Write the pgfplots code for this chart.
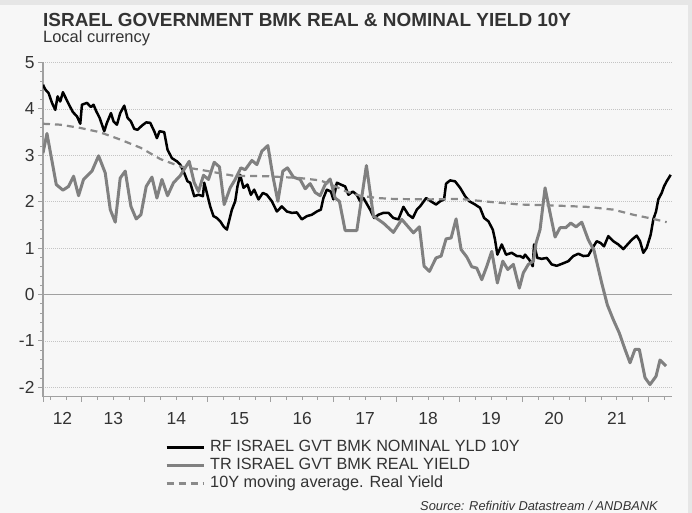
\documentclass[border=0pt]{standalone}
\usepackage{pgfplots}
\pgfplotsset{compat=1.18}
\usepackage{fontspec}
\setmainfont{Liberation Sans}
\definecolor{bg}{HTML}{F7F7F7}
\definecolor{band}{HTML}{E6E6E6}
\definecolor{txt}{HTML}{333333}
\definecolor{realc}{HTML}{808080}
\definecolor{mac}{HTML}{8A8A8A}
\definecolor{gridc}{HTML}{C4C4C4}
\definecolor{axc}{HTML}{A0A0A0}

\pgfplotstableread{
x y
2012.381 4.52
2012.417 4.42
2012.470 4.34
2012.524 4.13
2012.576 3.98
2012.613 4.27
2012.655 4.16
2012.698 4.36
2012.751 4.21
2012.814 4.04
2012.857 3.93
2012.921 3.84
2012.973 3.68
2013.000 4.09
2013.079 4.13
2013.143 4.04
2013.184 4.09
2013.227 3.95
2013.280 3.81
2013.354 3.52
2013.397 3.70
2013.461 3.91
2013.502 3.73
2013.556 3.66
2013.608 3.91
2013.672 4.07
2013.724 3.81
2013.778 3.73
2013.831 3.57
2013.883 3.55
2013.953 3.64
2014.021 3.71
2014.085 3.70
2014.148 3.52
2014.191 3.37
2014.233 3.52
2014.307 3.50
2014.360 3.12
2014.429 2.94
2014.509 2.87
2014.561 2.80
2014.625 2.62
2014.677 2.44
2014.720 2.41
2014.784 2.12
2014.852 2.15
2014.922 2.12
2014.943 2.41
2014.985 2.19
2015.038 1.90
2015.090 1.69
2015.144 1.65
2015.197 1.58
2015.249 1.47
2015.303 1.40
2015.344 1.62
2015.383 1.83
2015.435 2.01
2015.471 2.33
2015.514 2.58
2015.567 2.30
2015.630 2.37
2015.684 2.15
2015.737 2.26
2015.805 2.05
2015.875 2.19
2015.938 2.15
2016.018 2.01
2016.097 1.79
2016.176 1.90
2016.256 1.79
2016.336 1.76
2016.415 1.77
2016.494 1.62
2016.574 1.69
2016.653 1.72
2016.732 1.79
2016.796 1.83
2016.837 2.08
2016.891 2.26
2016.955 2.22
2016.996 2.05
2017.050 2.41
2017.114 2.37
2017.182 2.33
2017.234 2.15
2017.304 2.22
2017.368 2.15
2017.420 2.01
2017.473 2.08
2017.579 1.83
2017.643 1.65
2017.711 1.72
2017.790 1.76
2017.870 1.76
2017.949 1.65
2018.029 1.62
2018.108 1.89
2018.187 1.72
2018.257 1.65
2018.321 1.83
2018.384 1.92
2018.469 2.08
2018.543 2.01
2018.627 1.94
2018.691 2.01
2018.754 2.05
2018.786 2.39
2018.850 2.46
2018.929 2.44
2019.009 2.30
2019.088 2.12
2019.156 2.01
2019.247 1.94
2019.326 1.87
2019.390 1.65
2019.458 1.58
2019.528 1.40
2019.564 1.18
2019.601 0.86
2019.671 1.08
2019.739 0.86
2019.830 0.90
2019.909 0.83
2019.962 0.83
2020.014 0.79
2020.041 0.86
2020.109 0.75
2020.163 0.61
2020.184 1.08
2020.236 0.79
2020.306 0.77
2020.386 0.79
2020.465 0.65
2020.544 0.62
2020.640 0.67
2020.729 0.72
2020.808 0.83
2020.888 0.88
2020.967 0.83
2021.046 0.84
2021.116 1.01
2021.180 1.15
2021.243 1.11
2021.296 1.04
2021.364 1.26
2021.443 1.15
2021.523 1.08
2021.602 0.98
2021.736 1.18
2021.815 1.27
2021.868 1.15
2021.920 0.90
2021.974 1.01
2022.037 1.29
2022.079 1.62
2022.122 1.79
2022.158 2.05
2022.212 2.19
2022.249 2.33
2022.291 2.44
2022.355 2.58
}\nominal

\pgfplotstableread{
x y
2012.381 3.05
2012.444 3.47
2012.592 2.37
2012.698 2.25
2012.787 2.33
2012.867 2.55
2012.946 2.13
2013.025 2.48
2013.159 2.66
2013.264 2.99
2013.370 2.62
2013.450 1.83
2013.529 1.56
2013.608 2.51
2013.688 2.66
2013.778 1.90
2013.862 1.63
2013.937 1.72
2014.021 2.33
2014.112 2.53
2014.191 2.08
2014.271 2.48
2014.360 2.13
2014.455 2.41
2014.561 2.56
2014.704 2.87
2014.784 2.41
2014.852 2.22
2014.931 2.57
2015.011 2.48
2015.101 2.85
2015.185 2.75
2015.260 1.94
2015.355 2.30
2015.435 2.48
2015.525 2.73
2015.594 2.69
2015.700 2.89
2015.780 2.80
2015.859 3.09
2015.954 3.21
2016.034 2.55
2016.113 2.01
2016.192 2.66
2016.266 2.73
2016.361 2.53
2016.467 2.48
2016.547 2.28
2016.626 2.39
2016.706 2.20
2016.785 2.13
2016.864 2.37
2016.944 2.49
2017.023 2.08
2017.091 2.01
2017.182 1.38
2017.368 1.38
2017.520 2.78
2017.632 1.69
2017.790 1.54
2017.949 1.34
2018.082 1.62
2018.267 1.33
2018.362 1.46
2018.437 0.61
2018.521 0.50
2018.627 0.79
2018.707 0.83
2018.786 1.20
2018.866 1.22
2018.945 1.63
2019.025 0.97
2019.115 0.81
2019.194 0.60
2019.274 0.57
2019.353 0.32
2019.433 0.61
2019.512 0.93
2019.601 0.25
2019.687 0.72
2019.766 0.54
2019.855 0.65
2019.950 0.14
2020.014 0.47
2020.093 0.65
2020.173 0.72
2020.216 1.11
2020.279 1.40
2020.359 2.30
2020.438 1.76
2020.518 1.24
2020.597 1.44
2020.687 1.44
2020.767 1.54
2020.851 1.46
2020.942 1.56
2021.046 1.18
2021.137 0.95
2021.259 0.25
2021.348 -0.22
2021.443 -0.54
2021.539 -0.83
2021.629 -1.18
2021.709 -1.47
2021.788 -1.18
2021.856 -1.18
2021.947 -1.79
2022.026 -1.94
2022.122 -1.76
2022.185 -1.41
2022.280 -1.54
}\real

\pgfplotstableread{
x y
2012.381 3.68
2012.655 3.66
2012.973 3.59
2013.280 3.50
2013.608 3.34
2013.937 3.16
2014.244 2.92
2014.561 2.76
2014.879 2.69
2015.408 2.56
2015.938 2.55
2016.467 2.51
2016.785 2.46
2016.996 2.35
2017.200 2.22
2017.420 2.13
2017.700 2.08
2017.949 2.06
2018.480 2.05
2019.009 2.06
2019.537 1.99
2019.962 1.94
2020.490 1.92
2021.021 1.89
2021.443 1.83
2021.761 1.72
2022.079 1.63
2022.291 1.56
}\mavg

\begin{document}
\begin{tikzpicture}[x=1bp,y=1bp]
\fill[bg] (0,0) rectangle (692,513);
\fill[band] (0,508) rectangle (692,513);
\fill[band] (688,0) rectangle (692,513);
\useasboundingbox (0,0) rectangle (692,513);
\node[anchor=base west, font=\fontsize{19}{22}\selectfont\bfseries, text=txt, inner sep=0] at (43,486) {ISRAEL GOVERNMENT BMK REAL \& NOMINAL YIELD 10Y};
\node[anchor=base west, font=\fontsize{16.5}{19}\selectfont, text=txt, inner sep=0] at (43,470.5) {Local currency};
\node[anchor=base east, font=\fontsize{12.9}{14}\selectfont\itshape, text=txt, inner sep=0] at (658,2.5) {Source: Refinitiv Datastream / ANDBANK};
\begin{axis}[
  at={(43bp,116.3bp)}, anchor=south west,
  scale only axis, width=629bp, height=334.2bp,
  xmin=2012.381, xmax=2022.376, ymin=-2.2, ymax=5,
  axis lines*=left,
  axis line style={axc, line width=1.2bp},
  tick align=outside,
  tick style={axc, line width=1bp},
  major tick length=5bp, minor tick length=3bp,
  xtick={2012.381,2013,2014,2015,2016,2017,2018,2019,2020,2021,2022},
  x tick label as interval,
  xticklabels={12,13,14,15,16,17,18,19,20,21},
  minor xtick={2012.5,2012.75,2013.25,2013.5,2013.75,2014.25,2014.5,2014.75,2015.25,2015.5,2015.75,2016.25,2016.5,2016.75,2017.25,2017.5,2017.75,2018.25,2018.5,2018.75,2019.25,2019.5,2019.75,2020.25,2020.5,2020.75,2021.25,2021.5,2021.75,2022.25},
  ytick={-2,-1,0,1,2,3,4,5},
  minor y tick num=4,
  ymajorgrids,
  major grid style={gridc, dash pattern=on 1bp off 1bp, line width=0.7bp},
  extra y ticks={0},
  extra y tick labels={},
  extra y tick style={grid=major, major grid style={axc, solid, line width=1bp}, tick style={draw=none}},
  tick label style={font=\fontsize{17.5}{20}\selectfont, text=txt},
  xticklabel style={yshift=-7bp},
  /pgf/number format/assume math mode=true,
  legend style={at={(0.194,-0.128)}, anchor=north west, draw=none, fill=none,
    font=\fontsize{16.3}{18}\selectfont, text=txt, inner sep=0pt, row sep=2.5bp,
    nodes={inner sep=0pt, text height=12bp, text depth=3.5bp}},
  legend cell align=left,
  legend image code/.code={\draw[#1] (0bp,0bp) -- (37bp,0bp);},
  /tikz/every odd column/.append style={column sep=5bp},
]
\addplot[black, line width=2.5bp, line join=round] table[x=x,y=y] {\nominal};
\addlegendentry{RF ISRAEL GVT BMK NOMINAL YLD 10Y}
\addplot[realc, line width=3bp, line join=round] table[x=x,y=y] {\real};
\addlegendentry{TR ISRAEL GVT BMK REAL YIELD}
\addplot[mac, line width=2.2bp, dash pattern=on 7bp off 5bp] table[x=x,y=y] {\mavg};
\addlegendentry{10Y moving average. Real Yield}
\end{axis}
\end{tikzpicture}
\end{document}
